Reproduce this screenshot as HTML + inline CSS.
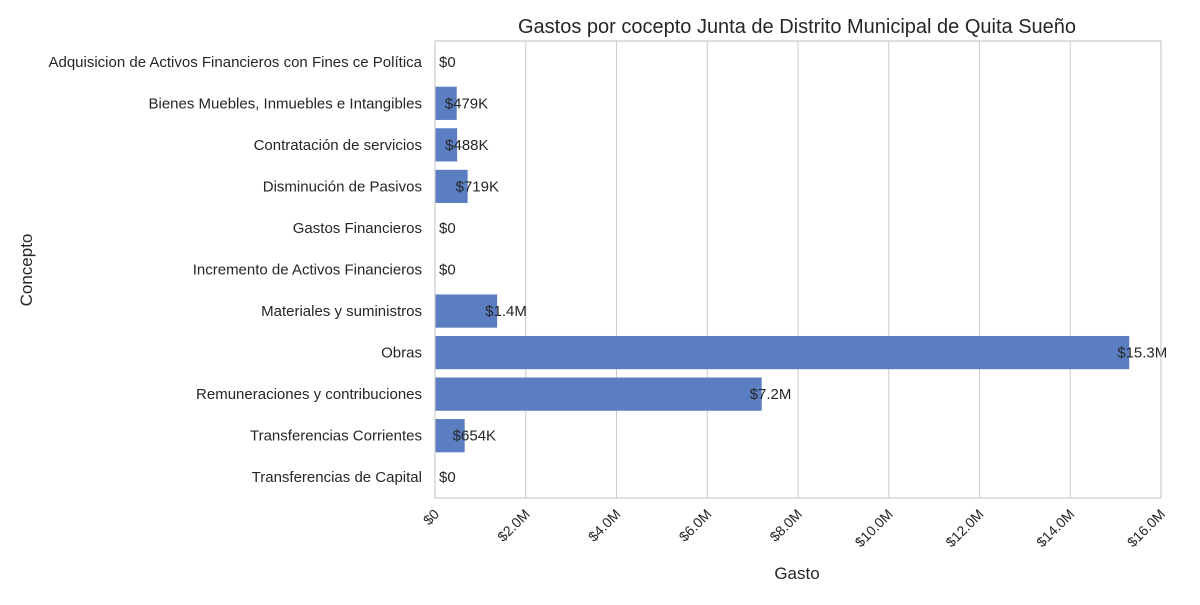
<!DOCTYPE html>
<html><head><meta charset="utf-8"><style>
body{margin:0;background:#fff;font-family:"Liberation Sans","DejaVu Sans",sans-serif;}
svg text{font-family:"Liberation Sans","DejaVu Sans",sans-serif;fill:#262626;}
</style></head><body>
<svg id="chart" width="1200" height="600">
<g id="grid"></g><g id="bars"></g><g id="labels"></g><g id="axes"></g>
<text x="797" y="33" font-size="20" text-anchor="middle">Gastos por cocepto Junta de Distrito Municipal de Quita Sueño</text>
<text x="797" y="579" font-size="17" text-anchor="middle">Gasto</text>
<text x="32" y="270" font-size="17" text-anchor="middle" transform="rotate(-90 32 270)">Concepto</text>
</svg>
<script>
const categories=["Adquisicion de Activos Financieros con Fines ce Política","Bienes Muebles, Inmuebles e Intangibles","Contratación de servicios","Disminución de Pasivos","Gastos Financieros","Incremento de Activos Financieros","Materiales y suministros","Obras","Remuneraciones y contribuciones","Transferencias Corrientes","Transferencias de Capital"];
const values=[0,479000,488000,719000,0,0,1370000,15300000,7200000,654000,0];
const valueLabels=["$0","$479K","$488K","$719K","$0","$0","$1.4M","$15.3M","$7.2M","$654K","$0"];
const ticks=[0,2e6,4e6,6e6,8e6,10e6,12e6,14e6,16e6];
const tickLabels=["$0","$2.0M","$4.0M","$6.0M","$8.0M","$10.0M","$12.0M","$14.0M","$16.0M"];
const L=435,R=1161,T=41,B=498;
const x=v=>L+v/16e6*(R-L);
const band=(B-T)/categories.length;
const y=i=>T+i*band;
const NS="http://www.w3.org/2000/svg";
function mk(p,t,a){const e=document.createElementNS(NS,t);for(const k in a)e.setAttribute(k,a[k]);document.getElementById(p).appendChild(e);return e;}
ticks.forEach((t,i)=>{
 const g=mk('grid','line',{x1:x(t),x2:x(t),y1:T,y2:B,stroke:'#cccccc','stroke-width':1});
 
 
 const tx=mk('axes','text',{x:x(t)+5,y:B+17,'font-size':14,'text-anchor':'end',transform:`rotate(-45 ${x(t)+5} ${B+17})`});
 tx.textContent=tickLabels[i];
 
 
});
categories.forEach((c,i)=>{
 const cy=y(i)+band/2;
 const r=mk('bars','rect',{x:L,y:cy-band*0.4,width:x(values[i])-L,height:band*0.8,fill:'#5b7ec3'});
 
 
 const lx=values[i]>0?Math.max(418,x(values[i])-12):439;
 const lb=mk('labels','text',{x:lx,y:cy+5,'font-size':15});
 lb.textContent=valueLabels[i];
 
 
 const ct=mk('axes','text',{x:L-13,y:cy+5,'font-size':15,'text-anchor':'end'});
 ct.textContent=c;
 
 
});
const fr=mk('axes','rect',{x:L,y:T,width:R-L,height:B-T,fill:'none',stroke:'#cccccc','stroke-width':1.2});


</script>
</body></html>
